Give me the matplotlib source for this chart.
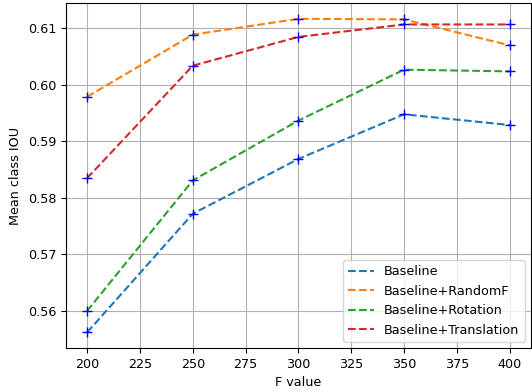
import matplotlib
matplotlib.use("Agg")
import matplotlib.pyplot as plt

# F values and mean class IOU per setting
f_values = [200, 250, 300, 350, 400]
baseline = [0.5562, 0.5772, 0.5869, 0.5948, 0.5929]
randomf = [0.5979, 0.6089, 0.6117, 0.6116, 0.6070]
rotation = [0.5600, 0.5831, 0.5937, 0.6027, 0.6024]
translation = [0.5835, 0.6034, 0.6085, 0.6107, 0.6107]

labels = ["Baseline", "Baseline+RandomF", "Baseline+Rotation", "Baseline+Translation"]

plt.rcParams['font.size'] = 9.2

fig = plt.figure(figsize=(5.32, 3.92), dpi=100)
ax = fig.add_axes([0.124, 0.112, 0.874, 0.880])

for series, lab in zip([baseline, randomf, rotation, translation], labels):
    ax.plot(f_values, series, '--', label=lab)
for series in [baseline, randomf, rotation, translation]:
    ax.plot(f_values, series, 'b+', markersize=7)

ax.grid(True)
ax.set_xlabel("F value")
ax.set_ylabel("Mean class IOU")
ax.legend(loc="lower right")

fig.savefig("out.png", dpi=100)
